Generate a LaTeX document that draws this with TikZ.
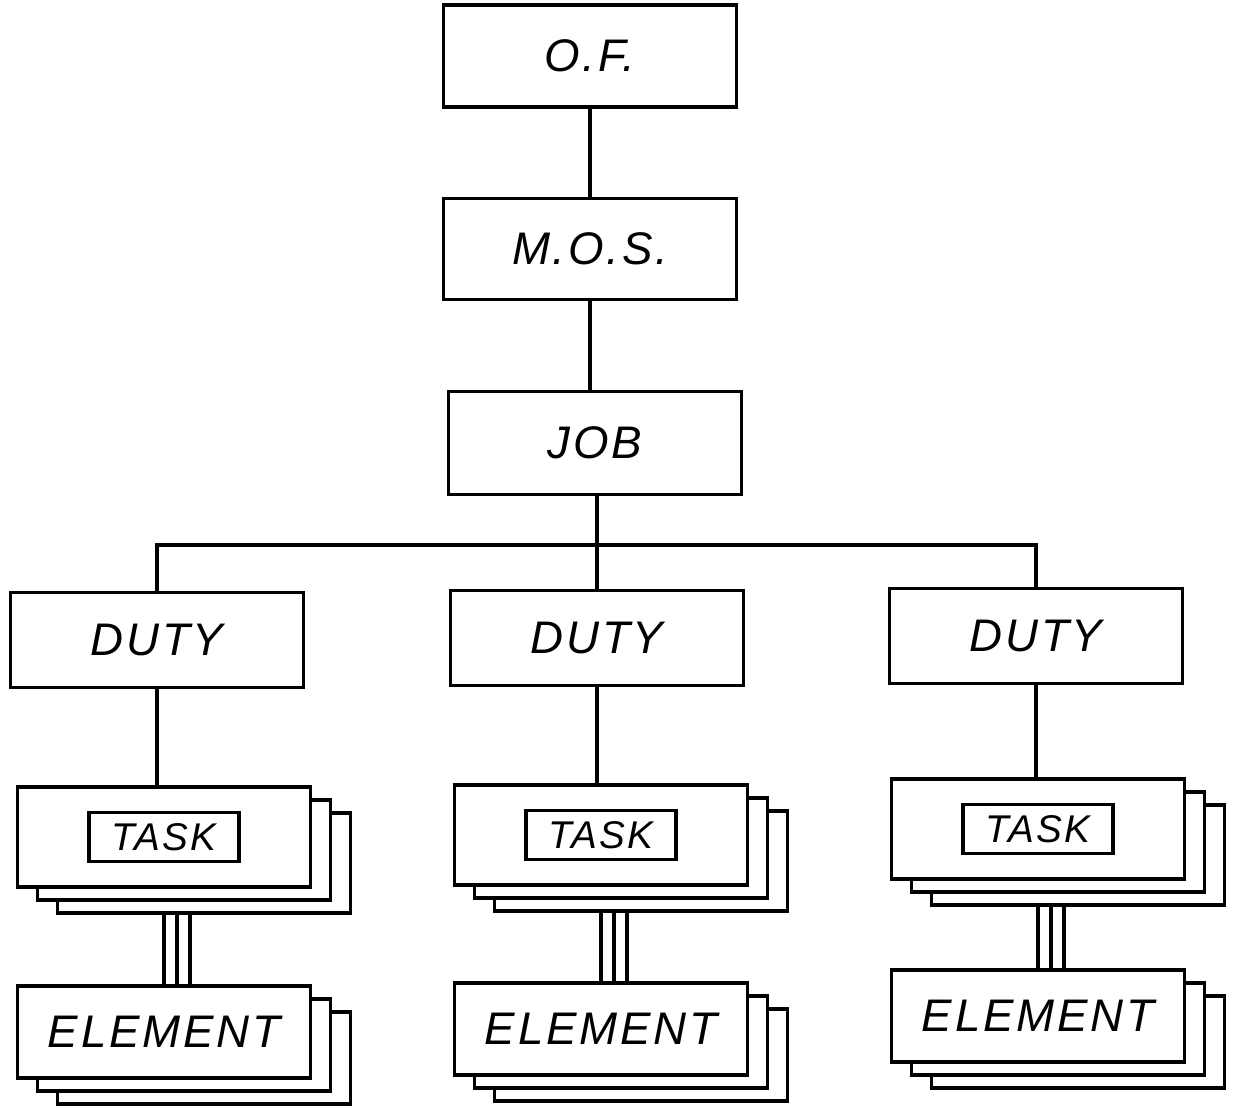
\documentclass[tikz,border=0pt]{standalone}
\usepackage{fontspec}
\newfontfamily\handfont[LetterSpace=6]{Liberation Sans}
\usetikzlibrary{calc,shadows,backgrounds}

\begin{document}
\begin{tikzpicture}[x=0.02cm,y=-0.02cm,line width=1.8pt,
    every node/.style={font=\handfont\itshape\fontsize{26}{30}\selectfont},
    unit/.style={draw,fill=white,minimum width=5.86cm,minimum height=1.9cm},
    stack/.style={unit,double copy shadow={shadow xshift=0.4cm,shadow yshift=-0.26cm}},
    tag/.style={draw,minimum width=3cm,minimum height=0.98cm,inner sep=0pt,
      font=\handfont\itshape\fontsize{22}{26}\selectfont},
    link/.style={line width=1.8pt}]
    \useasboundingbox (0,0) rectangle (1236,1109);
    % upper chain
    \node[unit,minimum height=2.04cm] (of) at (590,56) {O.F.};
    \node[unit,minimum height=2.02cm] (mos) at (590,249) {M.O.S.};
    \node[unit,minimum height=2.06cm] (job) at (595,443) {JOB};
    \coordinate (bus) at (597,545);
    % duties
    \node[unit] (duty1) at (157,640) {DUTY};
    \node[unit] (duty2) at (597,638) {DUTY};
    \node[unit] (duty3) at (1036,636) {DUTY};
    % tasks and elements
    \foreach \i/\xt/\yt/\ye in {1/164/837/1032,2/601/835/1029,3/1038/829/1016} {
      \node[stack,minimum height=2cm] (task\i) at (\xt,\yt) {};
      \node[tag] (tag\i) at (task\i) {TASK};
      \node[stack,minimum height=1.84cm] (elem\i) at (\xt,\ye) {ELEMENT};
    }
    \begin{scope}[on background layer]
      \draw[link] (of) -- (of |- mos.north);
      \draw[link] (mos) -- (mos |- job.north);
      \draw[link] (bus |- job.south) -- (bus);
      \draw[link] (duty1.north) |- (bus) -| (duty3.north);
      \draw[link] (bus) -- (duty2.north);
      \foreach \i in {1,2,3} {
        \draw[link] (duty\i.south) -- (duty\i.south |- task\i.north);
        \foreach \dx in {0,13,26}
          \draw[link] ($(task\i.south)+(\dx,0)$) -- ($(elem\i.north)+(\dx,0)$);
      }
    \end{scope}
  \end{tikzpicture}
\end{document}
